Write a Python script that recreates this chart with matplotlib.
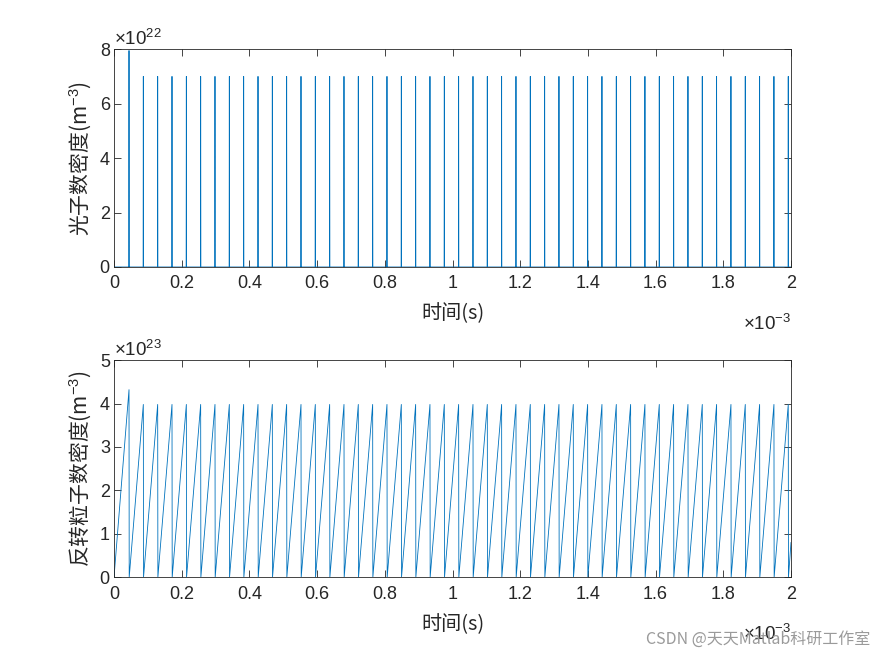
"""
Laser Q-switch pulse train: photon density and inversion density vs. time.
MATLAB-style two-panel figure.
"""
import numpy as np
import matplotlib
matplotlib.use('Agg')
import matplotlib.pyplot as plt

# ── data (time in units of 1e-3 s) ────────────────────────────────────────────
spike_times = [0.0443, 0.0866, 0.1290, 0.1713, 0.2137, 0.2560, 0.2983, 0.3407,
               0.3830, 0.4254, 0.4677, 0.5100, 0.5524, 0.5947, 0.6371, 0.6794,
               0.7217, 0.7641, 0.8064, 0.8488, 0.8911, 0.9334, 0.9758, 1.0181,
               1.0605, 1.1028, 1.1451, 1.1875, 1.2298, 1.2722, 1.3145, 1.3568,
               1.3992, 1.4415, 1.4839, 1.5262, 1.5685, 1.6109, 1.6532, 1.6956,
               1.7379, 1.7802, 1.8226, 1.8649, 1.9073, 1.9496, 1.9919]

# photon density peaks (units of 1e22 m^-3)
photon_peaks = [7.95, 7.0, 7.0, 7.0, 7.0, 7.0, 7.0, 7.0, 7.0, 7.0, 7.0, 7.0,
                7.0, 7.0, 7.0, 7.0, 7.0, 7.0, 7.0, 7.0, 7.0, 7.0, 7.0, 7.0,
                7.0, 7.0, 7.0, 7.0, 7.0, 7.0, 7.0, 7.0, 7.0, 7.0, 7.0, 7.0,
                7.0, 7.0, 7.0, 7.0, 7.0, 7.0, 7.0, 7.0, 7.0, 7.0, 7.0]

# inversion density just before each pulse (units of 1e23 m^-3)
inversion_peaks = [4.32, 3.98, 3.98, 3.98, 3.98, 3.98, 3.98, 3.98, 3.98, 3.98,
                   3.98, 3.98, 3.98, 3.98, 3.98, 3.98, 3.98, 3.98, 3.98, 3.98,
                   3.98, 3.98, 3.98, 3.98, 3.98, 3.98, 3.98, 3.98, 3.98, 3.98,
                   3.98, 3.98, 3.98, 3.98, 3.98, 3.98, 3.98, 3.98, 3.98, 3.98,
                   3.98, 3.98, 3.98, 3.98, 3.98, 3.98, 3.98]
inversion_end = 0.80   # value at t = 2e-3 s

x_ticklabels = ['0', '0.2', '0.4', '0.6', '0.8', '1', '1.2', '1.4', '1.6',
                '1.8', '2']

T_END = 2.0
HALF_W = 0.0006        # half width of a photon spike

# ── build traces ──────────────────────────────────────────────────────────────
px, py = [0.0], [0.0]
for t, p in zip(spike_times, photon_peaks):
    px += [t - HALF_W, t, t + HALF_W]
    py += [0.0, p, 0.0]
px.append(T_END); py.append(0.0)

nx, ny = [0.0], [0.0]
for t, p in zip(spike_times, inversion_peaks):
    nx += [t, t + HALF_W]
    ny += [p, 0.0]
nx.append(T_END); ny.append(inversion_end)

# ── style ─────────────────────────────────────────────────────────────────────
CJK = ['Noto Sans CJK SC', 'DejaVu Sans']
plt.rcParams['font.family'] = ['Liberation Sans', 'DejaVu Sans']
plt.rcParams['mathtext.fontset'] = 'custom'
plt.rcParams['mathtext.rm'] = 'Liberation Sans'
plt.rcParams['mathtext.it'] = 'Liberation Sans'
AX_COL = '#262626'
LINE_COL = '#0072BD'
FS = 13

fig = plt.figure(figsize=(8.75, 6.56), dpi=100)
ax_top = fig.add_axes([0.1303, 0.593, 0.7737, 0.332])
ax_bot = fig.add_axes([0.1303, 0.120, 0.7737, 0.331])


def style_axis(ax, ymax, exp_text):
    ax.set_xlim(0, T_END)
    ax.set_ylim(0, ymax)
    ax.set_xticks(np.arange(0, 2.01, 0.2))
    ax.set_xticklabels(x_ticklabels)
    ax.tick_params(direction='in', top=True, right=True, length=5,
                   width=0.6, colors=AX_COL, labelsize=FS)
    ax.tick_params(axis='x', pad=6)
    ax.tick_params(axis='y', pad=3)
    for s in ax.spines.values():
        s.set_color(AX_COL)
        s.set_linewidth(0.6)
    ax.text(0.0, 1.018, exp_text, transform=ax.transAxes, ha='left',
            va='baseline', fontsize=FS + 0.5, color=AX_COL)
    ax.text(1.0, -0.29, r'$\times$10$^{-3}$', transform=ax.transAxes,
            ha='right', va='baseline', fontsize=FS + 0.5, color=AX_COL)
    ax.set_xlabel('时间(s)', family=CJK, fontsize=14.5, color=AX_COL,
                  labelpad=8)


ax_top.plot(px, py, color=LINE_COL, linewidth=0.6)
style_axis(ax_top, 8, r'$\times$10$^{22}$')
ax_top.set_yticks([0, 2, 4, 6, 8])
ax_top.set_ylabel('光子数密度(m$^{-3}$)', family=CJK, fontsize=15,
                  color=AX_COL, labelpad=5)

ax_bot.plot(nx, ny, color=LINE_COL, linewidth=0.6)
style_axis(ax_bot, 5, r'$\times$10$^{23}$')
ax_bot.set_yticks([0, 1, 2, 3, 4, 5])
ax_bot.set_ylabel('反转粒子数密度(m$^{-3}$)', family=CJK, fontsize=15,
                  color=AX_COL, labelpad=5)

fig.text(0.995, 0.012, 'CSDN @天天Matlab科研工作室', family=CJK,
         fontsize=11.5, color='#9a9a9a', ha='right', va='bottom')

fig.savefig('out.png', dpi=100)
